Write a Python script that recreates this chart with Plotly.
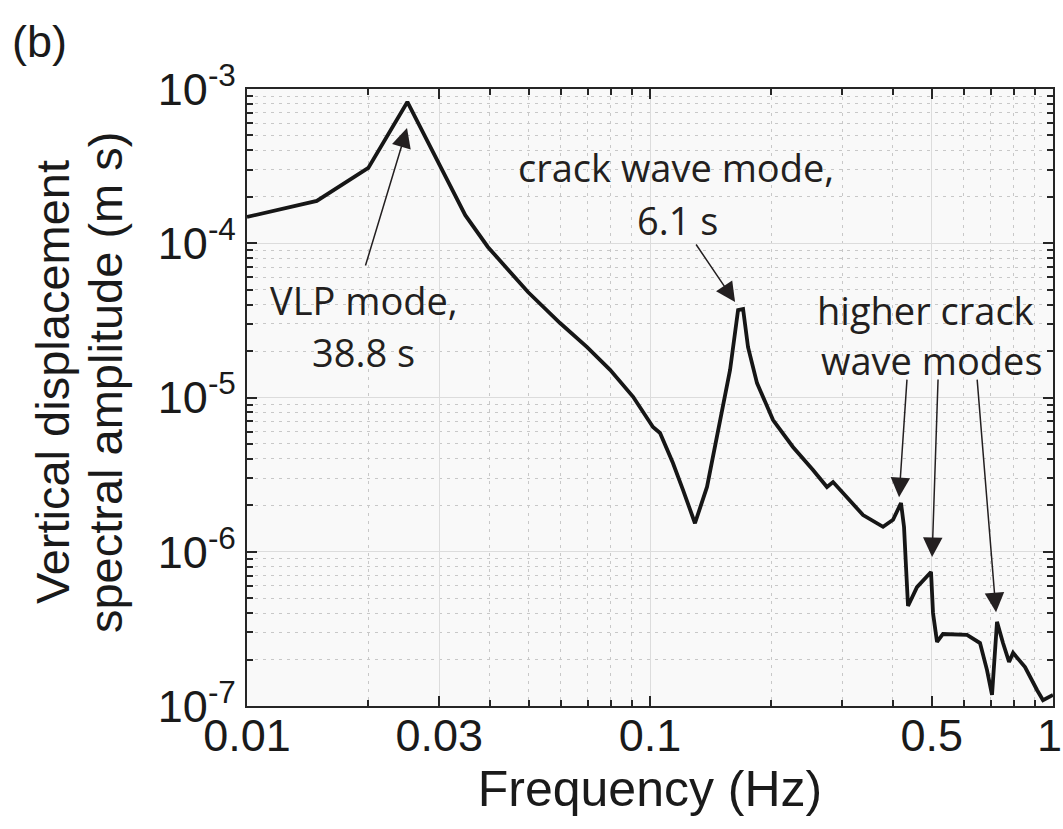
import plotly.graph_objects as go
import math

# ---- data ----
freq_hz = [0.01, 0.0149, 0.0200, 0.0250, 0.0348, 0.0396, 0.0498, 0.0598, 0.0698, 0.0796,
           0.0908, 0.1017, 0.1059, 0.1140, 0.1208, 0.1293, 0.1385, 0.1492, 0.1580, 0.1654,
           0.1702, 0.1751, 0.1843, 0.2020, 0.2263, 0.2538, 0.2749, 0.2846, 0.3083, 0.3378,
           0.3787, 0.4009, 0.4196, 0.4269, 0.4318, 0.4368, 0.4597, 0.4758, 0.4981, 0.5038,
           0.5155, 0.5333, 0.6118, 0.6590, 0.6859, 0.7058, 0.7262, 0.7515, 0.7780, 0.7960,
           0.8523, 0.9127, 0.9445, 1.0]
amplitude = [1.48e-4, 1.88e-4, 3.08e-4, 8.24e-4, 1.52e-4, 9.46e-5, 4.83e-5, 3.04e-5, 2.12e-5, 1.51e-5,
             1.01e-5, 6.44e-6, 5.89e-6, 3.76e-6, 2.51e-6, 1.53e-6, 2.63e-6, 6.84e-6, 1.51e-5, 3.69e-5,
             3.75e-5, 2.12e-5, 1.24e-5, 7.14e-6, 4.78e-6, 3.39e-6, 2.63e-6, 2.83e-6, 2.26e-6, 1.73e-6,
             1.45e-6, 1.61e-6, 2.07e-6, 1.45e-6, 7.96e-7, 4.45e-7, 5.90e-7, 6.56e-7, 7.40e-7, 4.01e-7,
             2.60e-7, 2.93e-7, 2.89e-7, 2.56e-7, 1.71e-7, 1.18e-7, 3.51e-7, 2.56e-7, 1.93e-7, 2.21e-7,
             1.79e-7, 1.27e-7, 1.09e-7, 1.18e-7]

x_tick_vals = [0.01, 0.03, 0.1, 0.5, 1]
x_tick_text = ["0.01", "0.03", "0.1", "0.5", "1"]
x_minor_vals = [0.02, 0.04, 0.05, 0.06, 0.07, 0.08, 0.09,
                0.2, 0.3, 0.4, 0.6, 0.7, 0.8, 0.9]
y_tick_vals = [1e-7, 1e-6, 1e-5, 1e-4, 1e-3]
y_tick_text = ["10<sup>-7</sup>", "10<sup>-6</sup>", "10<sup>-5</sup>", "10<sup>-4</sup>", "10<sup>-3</sup>"]
y_minor_vals = [m * 10.0 ** e for e in range(-7, -3) for m in range(2, 10)]

# annotation arrows: target (freq, amplitude) and tail offset in px
arrow_freq = [0.02495, 0.1626, 0.4150, 0.5012, 0.7222]
arrow_amp = [5.58e-4, 4.16e-5, 2.26e-6, 9.25e-7, 4.06e-7]
arrow_ax = [-42, -40, 8, 6, -19]
arrow_ay = [139, -59, -119, -179, -234]

# text labels
label_text = ["VLP mode,", "38.8 s", "crack wave mode,", "6.1 s", "higher crack", "wave modes"]
label_freq = [0.0195, 0.0195, 0.1160, 0.1167, 0.484, 0.501]
label_amp = [4.29e-5, 1.97e-5, 3.12e-4, 1.42e-4, 3.69e-5, 1.75e-5]

# ---- figure ----
fig = go.Figure()
fig.add_trace(go.Scatter(x=freq_hz, y=amplitude, mode="lines",
                         line=dict(color="#161616", width=3.8), showlegend=False))

helv = "Liberation Sans, Arial, sans-serif"
tick_font = dict(family=helv, size=45, color="#1a1a1a")
ann_font = dict(family="Open Sans, Noto Sans, sans-serif", size=38, color="#231f20")
annotations = []
for f, a, ax, ay in zip(arrow_freq, arrow_amp, arrow_ax, arrow_ay):
    annotations.append(dict(x=math.log10(f), y=math.log10(a), xref="x", yref="y",
                            ax=ax, ay=ay, text="", showarrow=True, arrowhead=2,
                            arrowsize=2.6, arrowwidth=1.5, arrowcolor="#231f20", standoff=0))
for t, f, a in zip(label_text, label_freq, label_amp):
    annotations.append(dict(x=math.log10(f), y=math.log10(a), xref="x", yref="y",
                            text=t, showarrow=False, font=ann_font,
                            xanchor="center", yanchor="middle"))
annotations.append(dict(x=-0.294, y=1.077, xref="paper", yref="paper", text="(b)",
                        showarrow=False, xanchor="left", yanchor="middle",
                        font=dict(family=helv, size=45, color="#1a1a1a")))
for t, xp in [("Vertical displacement", -0.2419), ("spectral amplitude (m s)", -0.1762)]:
    annotations.append(dict(x=xp, y=0.525, xref="paper", yref="paper", text=t,
                            textangle=-90, showarrow=False, xanchor="center", yanchor="middle",
                            font=dict(family=helv, size=47, color="#1a1a1a")))
# the last x tick label sits at the page edge: draw it slightly inward so it is not clipped
annotations.append(dict(x=math.log10(x_tick_vals[-1]), y=0, xref="x", yref="paper",
                        text=x_tick_text[-1], showarrow=False, xanchor="center", yanchor="middle",
                        xshift=-4, yshift=-29, font=tick_font))
x_tick_text_shown = x_tick_text[:-1] + [""]

axis_common = dict(type="log", showline=True, linecolor="#262626", linewidth=2.2,
                   mirror="allticks", ticks="inside", ticklen=10, tickwidth=2,
                   tickcolor="#262626", showgrid=True, gridcolor="#dcdcdc", gridwidth=1,
                   zeroline=False, automargin=False, ticklabeloverflow="allow",
                   tickfont=tick_font)

fig.update_layout(
    width=1063, height=829,
    margin=dict(l=247, r=10, t=89, b=123, autoexpand=False),
    paper_bgcolor="white", plot_bgcolor="#f9f9f9",
    annotations=annotations,
    xaxis=dict(axis_common, range=[-2, 0], tickvals=x_tick_vals, ticktext=x_tick_text_shown,
               ticklabelstandoff=-11,
               title=dict(text="Frequency (Hz)", standoff=9,
                          font=dict(family=helv, size=50, color="#1a1a1a")),
               minor=dict(tickvals=x_minor_vals, ticks="inside", ticklen=6, tickwidth=1.5,
                          tickcolor="#262626", showgrid=True, gridcolor="#c8c8c8",
                          griddash="3px,5px", gridwidth=1)),
    yaxis=dict(axis_common, range=[-7, -3], tickvals=y_tick_vals, ticktext=y_tick_text,
               minor=dict(tickvals=y_minor_vals, ticks="inside", ticklen=6, tickwidth=1.5,
                          tickcolor="#262626", showgrid=True, gridcolor="#c8c8c8",
                          griddash="3px,5px", gridwidth=1)),
)

fig.write_html("out.html")
